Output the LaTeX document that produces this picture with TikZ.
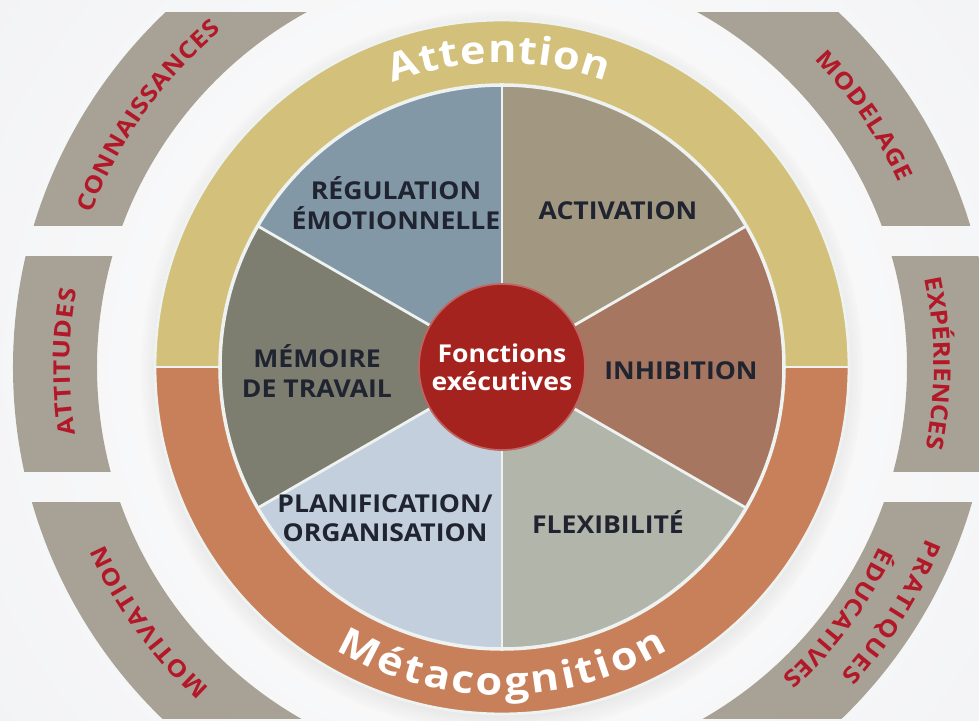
\documentclass[tikz,border=0pt]{standalone}
\usepackage{fontspec}
\setmainfont{Open Sans}[FakeStretch=1.08]
\newfontfamily\widefont{Open Sans}[FakeStretch=1.12]
\usepackage{xcolor}
\usepackage{tikz}
\usetikzlibrary{decorations.text,shadows}
\definecolor{bgcol}{HTML}{E9EAED}
\definecolor{tabcol}{HTML}{A8A195}
\definecolor{tabred}{HTML}{B21828}
\definecolor{attn}{HTML}{D3C07A}
\definecolor{meta}{HTML}{C8805A}
\definecolor{regul}{HTML}{8398A6}
\definecolor{activ}{HTML}{A29882}
\definecolor{inhib}{HTML}{A67660}
\definecolor{flexi}{HTML}{B2B5AA}
\definecolor{planif}{HTML}{C4CFDE}
\definecolor{memoire}{HTML}{7D7E70}
\definecolor{hubred}{HTML}{A5231E}
\definecolor{ink}{HTML}{1F2430}
\definecolor{rim}{HTML}{EEF2F1}
\newcommand{\tabfont}{\widefont\bfseries\fontsize{16.5pt}{16.5pt}\selectfont}
\newcommand{\ringfont}{\widefont\bfseries\fontsize{27.5pt}{27.5pt}\selectfont}

\begin{document}
\begin{tikzpicture}[x=0.025cm, y=0.025cm,
  sector/.style={font=\bfseries\fontsize{17.5pt}{21pt}\selectfont, text=ink, align=center},
  hub/.style={circle, fill=hubred, draw=hubred!70!white, line width=1.2pt,
    minimum size=4.15cm, text=white, align=center,
    font=\bfseries\fontsize{17.5pt}{20pt}\selectfont},
  rimline/.style={draw=rim, line width=2pt}]
% helper: text set along an arc round the centre, from angle #1 to #2 at radius #3
\newcommand{\arctext}[5]{%
  \path[decorate, decoration={text along path, text align=fit to path,
      text color=#4, text={#5}}]
    (#1:#3) arc[start angle=#1, end angle=#2, radius=#3];
}
% background, centre of the wheel at (0,0)
\useasboundingbox (-502,-354) rectangle (477,367);
\fill[bgcol] (-502,-354) rectangle (477,367);
\shade[inner color=white, outer color=bgcol] (0,0) circle[radius=1100];

% outer tabs: one annulus cut into three bands
\foreach \ylo/\yhi in {141/354,-105/110,-351/-136}{
  \begin{scope}
    \clip (-502,\ylo) rectangle (477,\yhi);
    \fill[tabcol, even odd rule] (0,0) circle[radius=489] (0,0) circle[radius=405];
  \end{scope}
}
\arctext{159.5}{129.8}{438}{tabred}{|\tabfont|CONNAISSANCES}
\arctext{44.5}{24.9}{438}{tabred}{|\tabfont|MODELAGE}
\arctext{189}{169.7}{432}{tabred}{|\tabfont|ATTITUDES}
\arctext{11.8}{-10.9}{432}{tabred}{|\tabfont|EXPÉRIENCES}
\arctext{227.7}{204}{435}{tabred}{|\tabfont|MOTIVATION}
\arctext{-22}{-42.3}{458}{tabred}{|\tabfont|PRATIQUES}
\arctext{-25.5}{-48}{418}{tabred}{|\tabfont|ÉDUCATIVES}

% ring: attention on top, metacognition below
\fill[bgcol, circular drop shadow={shadow scale=1.04, shadow xshift=0pt,
  shadow yshift=-3pt, opacity=0.35}] (0,0) circle[radius=348];
\fill[attn] (347,0) arc[start angle=0, end angle=180, radius=347] -- cycle;
\fill[meta] (-347,0) arc[start angle=180, end angle=360, radius=347] -- cycle;
\draw[rimline] (0,0) circle[radius=347];
\draw[rimline] (-347,0) -- (347,0);
\arctext{111}{70}{304}{white}{|\ringfont|Attention}
\arctext{239.5}{300.5}{328}{white}{|\ringfont|Métacognition}

% pie of six functions
\foreach \a/\col in {30/activ,90/regul,150/memoire,210/planif,270/flexi,330/inhib}{
  \fill[\col] (0,0) -- (\a:282) arc[start angle=\a, delta angle=60, radius=282] -- cycle;
}
\foreach \a in {30,90,...,330}{
  \draw[rimline] (0,0) -- (\a:282);
}
\draw[rimline, line width=2.5pt] (0,0) circle[radius=282];

\node[sector] (regul) at (-106,164) {RÉGULATION\\ÉMOTIONNELLE};
\node[sector] (activ) at (116,156) {ACTIVATION};
\node[sector] (memo) at (-185,-4) {MÉMOIRE\\DE TRAVAIL};
\node[sector] (inhib) at (179,-4) {INHIBITION};
\node[sector] (plan) at (-117,-151) {PLANIFICATION/\\ORGANISATION};
\node[sector] (flex) at (106,-155) {FLEXIBILITÉ};
\node[hub] (hub) at (0,0) {Fonctions\\exécutives};
\end{tikzpicture}
\end{document}
